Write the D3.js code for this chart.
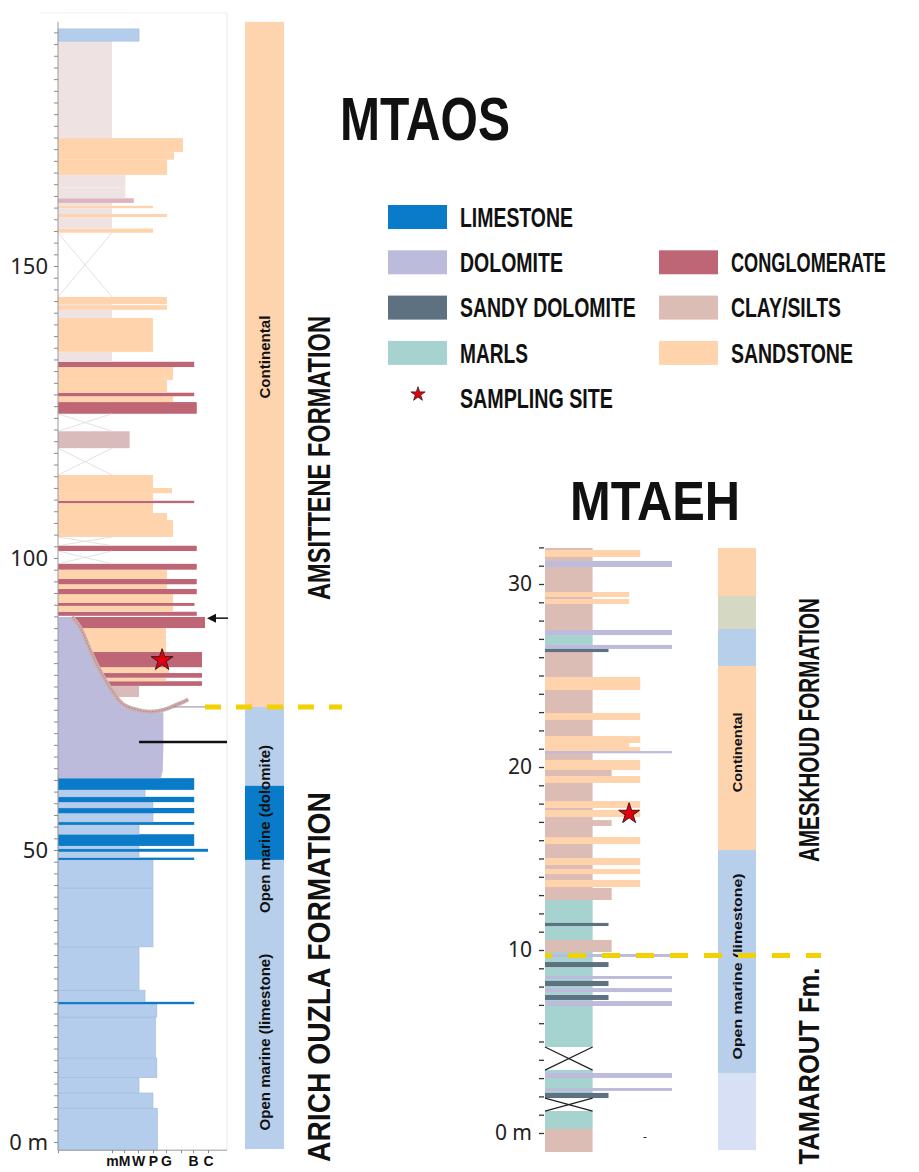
<!DOCTYPE html>
<html>
<head>
<meta charset="utf-8">
<script src="https://cdn.jsdelivr.net/npm/d3@7"></script>
<style>
  body { margin: 0; background: #fff; }
  svg { display: block; }
  .cond { font-family: "Liberation Sans Narrow", "Arial Narrow", "Liberation Sans", sans-serif; font-weight: bold; fill: #111; }
  .num { font-family: "Noto Sans", "Open Sans", sans-serif; fill: #222; }
</style>
</head>
<body>
<svg id="chart" width="919" height="1172"></svg>
<script>
(function () {

  /**
   * Data
   */
  const grainTicks = [0, 1, 2, 3, 4, 5, 6, 7, 8];
  const grainLabels = ["", "m", "M", "W", "P", "G", "", "B", "C"];
  const mtaosLabelTicks = [0, 50, 100, 150];
  const mtaehLabelTicks = [0, 10, 20, 30];

  // [base (m), top (m), lithology, grain-size reach]
  const mtaosBeds = [
    [-1.4, 5.8, "limeL", 4.35], [5.8, 8.4, "limeL", 4.0], [8.4, 11.0, "limeL", 3.07],
    [11.0, 14.4, "limeL", 4.3], [14.4, 21.4, "limeL", 4.2], [21.4, 23.6, "limeL", 4.3],
    [23.6, 24.0, "lime", 7.08], [24.0, 26.0, "limeL", 3.47], [26.0, 33.4, "limeL", 3.07],
    [33.4, 43.5, "limeL", 4.0], [43.5, 48.3, "limeL", 4.0], [48.3, 48.7, "lime", 7.08],
    [48.7, 49.7, "limeL", 3.07], [49.7, 50.2, "lime", 8.0], [50.2, 50.7, "limeL", 3.07],
    [50.7, 52.7, "lime", 7.08], [52.7, 54.3, "limeL", 3.07], [54.3, 54.8, "lime", 7.08],
    [54.8, 56.3, "limeL", 4.0], [56.3, 57.2, "lime", 7.08], [57.2, 58.2, "limeL", 4.0],
    [58.2, 59.1, "lime", 7.08], [59.1, 60.3, "limeL", 3.47], [60.3, 62.3, "lime", 7.08],
    [76.2, 78.1, "clayD", 3.07], [78.1, 78.9, "cgl", 7.6], [78.9, 79.5, "sand", 5.0],
    [79.5, 80.3, "cgl", 7.6], [80.3, 81.3, "sand", 5.2], [81.3, 83.9, "cgl", 7.6],
    [83.9, 88.0, "sand", 5.0], [88.0, 89.9, "cgl", 7.8],
    [90.1, 90.8, "cgl", 7.25], [90.8, 91.8, "sand", 5.47], [91.8, 92.3, "cgl", 7.1],
    [92.3, 93.8, "sand", 5.47], [93.8, 94.7, "cgl", 7.25], [94.7, 95.5, "sand", 5.07],
    [95.5, 96.4, "cgl", 7.25], [96.4, 98.0, "sand", 5.07], [98.0, 99.0, "cgl", 7.25],
    [101.2, 102.1, "cgl", 7.25], [103.6, 106.5, "sand", 5.47], [106.5, 107.7, "sand", 5.07],
    [107.7, 109.4, "sand", 4.0], [109.4, 109.8, "cgl", 7.08], [109.8, 111.1, "sand", 4.0],
    [111.1, 112.0, "sand", 5.4], [112.0, 114.2, "sand", 4.0], [118.8, 121.7, "clayD", 2.4],
    [124.7, 126.7, "cgl", 7.25], [126.7, 127.7, "sand", 5.47], [127.7, 128.3, "cgl", 7.08],
    [128.3, 130.5, "sand", 5.07], [130.5, 132.7, "sand", 5.47], [132.7, 133.6, "cgl", 7.08],
    [133.6, 135.3, "clayF", 1.0], [135.3, 141.1, "sand", 4.0], [141.1, 142.5, "clayF", 1.0],
    [142.5, 143.3, "sand", 5.07], [143.3, 143.5, "clayF", 1.0], [143.5, 144.7, "sand", 5.07],
    [155.7, 156.4, "sand", 4.0], [156.4, 158.4, "clayF", 1.0], [158.4, 158.9, "sand", 5.07],
    [158.9, 159.9, "clayF", 1.0], [159.9, 160.3, "sand", 4.0], [160.3, 160.8, "clayF", 1.0],
    [160.8, 161.6, "cglF", 2.7], [161.6, 163.4, "clayF", 2.1], [163.4, 165.6, "clayF", 2.1],
    [165.6, 168.2, "sand", 5.07], [168.2, 169.5, "sand", 5.53], [169.5, 171.9, "sand", 6.17],
    [171.9, 188.5, "clayF", 1.0], [188.5, 190.6, "limeL", 3.07]
  ];
  const mtaosCovered = [[144.7, 155.7], [121.7, 124.7], [114.2, 118.8], [102.1, 103.6], [99.0, 101.2]];
  // dolomite body below the erosive surface: [depth, grain]
  const mtaosDolomite = [
    [62.3, 0], [89.9, 0], [89.9, 0.26], [88.5, 0.41], [84.2, 0.59], [81.7, 0.72], [79.1, 0.87],
    [76.5, 1.25], [74.8, 1.83], [74.0, 2.86], [73.5, 3.8], [73.6, 4.8], [68.0, 4.8], [63.5, 4.75], [62.3, 4.6]
  ];
  const mtaosSurface = [
    [89.9, 0.26], [88.5, 0.41], [84.2, 0.59], [81.7, 0.72], [79.1, 0.87], [76.5, 1.25],
    [74.8, 1.83], [74.0, 2.86], [73.5, 3.8], [74.0, 4.93], [74.8, 5.6], [75.2, 6.07], [75.8, 6.6]
  ];
  const mtaosSamples = [[82.5, 4.7]];
  const mtaosEnv = [[74.5, 191.8, "cont"], [61.0, 74.5, "marineL"], [48.3, 61.0, "marineD"], [-1.2, 48.3, "marineL"]];
  const mtaosEnvLabels = [["Continental", 134.4, 83], ["Open marine (dolomite)", 53.6, 168], ["Open marine (limestone)", 17.1, 177]];
  const mtaosBoundary = 74.5;
  const mtaosMarker = 68.5;
  const mtaosArrow = 89.7;

  const mtaehBase = [
    [-1.04, 0.22, "clay", 3], [0.22, 1.20, "marl", 3], [1.91, 3.44, "marl", 3],
    [4.70, 12.73, "marl", 3], [12.73, 26.67, "clay", 3], [26.67, 27.21, "marl", 3], [27.21, 31.97, "clay", 3]
  ];
  const mtaehBeds = [
    [31.48, 31.86, "sand", 6], [30.93, 31.26, "dol", 8], [29.29, 29.56, "sand", 5.3],
    [28.91, 29.18, "sand", 5.3], [27.21, 27.49, "dol", 8], [26.45, 26.67, "dol", 8],
    [26.28, 26.45, "sdol", 4], [24.21, 24.92, "sand", 6], [22.57, 22.95, "sand", 6],
    [21.31, 21.69, "sand", 6], [21.09, 21.31, "sand", 5.3], [20.87, 21.09, "sand", 6],
    [20.75, 20.87, "dol", 8], [19.84, 20.38, "sand", 6], [19.51, 19.84, "clay", 4.2],
    [19.13, 19.51, "sand", 6], [17.76, 18.14, "sand", 6], [17.27, 17.65, "sand", 6],
    [16.78, 17.10, "clay", 4.2], [15.79, 16.17, "sand", 6], [14.64, 15.03, "sand", 6],
    [14.15, 14.43, "sand", 6], [13.44, 13.83, "sand", 6], [12.73, 13.39, "clay", 4.2],
    [11.31, 11.48, "sdol", 4], [9.89, 10.55, "clay", 4.2], [9.62, 9.78, "dol", 8],
    [9.07, 9.34, "sdol", 4], [8.42, 8.58, "dol", 8], [8.03, 8.31, "sdol", 4],
    [7.70, 7.92, "dol", 8], [7.27, 7.54, "sdol", 4], [6.94, 7.21, "dol", 8],
    [3.01, 3.28, "dol", 8], [2.30, 2.46, "dol", 8], [1.91, 2.19, "sdol", 4]
  ];
  const mtaehCovered = [[3.44, 4.70], [1.20, 1.91]];
  const mtaehSamples = [[17.45, 5.3]];
  const mtaehEnv = [[29.34, 31.97, "cont"], [27.54, 29.34, "mixed"], [25.52, 27.54, "marineL"],
    [15.46, 25.52, "cont"], [3.28, 15.46, "marineL"], [-0.93, 3.28, "marineP"]];
  const mtaehEnvLabels = [["Continental", 20.8, 80], ["Open marine (limestone)", 9.1, 186]];
  const mtaehBoundary = 9.7;

  const legendLeft = [["LIMESTONE", "lime"], ["DOLOMITE", "dol"], ["SANDY DOLOMITE", "sdol"], ["MARLS", "marl"]];
  const legendRight = [["CONGLOMERATE", "cgl"], ["CLAY/SILTS", "clay"], ["SANDSTONE", "sand"]];
  const legendStar = "SAMPLING SITE";

  /**
   * Styles
   */
  const lith = {
    lime: "#0a7bc8", limeL: "#b5cdec", dol: "#bdbbdb", sdol: "#5e7181", marl: "#a6d2d0",
    cgl: "#bf6676", cglF: "#dcb3bf", clay: "#dcbdb6", clayD: "#d9bbbb", clayF: "#eee3e2", sand: "#ffd3ac"
  };
  const env = { cont: "#fed4ae", marineL: "#b7cfeb", marineD: "#0a7bc8", mixed: "#d5d8c2", marineP: "#d7e0f4" };
  const labelWidths = {
    LIMESTONE: 113, DOLOMITE: 103, "SANDY DOLOMITE": 176, MARLS: 68, "SAMPLING SITE": 153,
    CONGLOMERATE: 155, "CLAY/SILTS": 110, SANDSTONE: 122
  };

  const svg = d3.select("#chart");
  const star = r => d3.symbol(d3.symbolStar, r * r / 0.8908130915292852)();

  // squeeze a condensed label horizontally to the width it has in the figure
  function fitText(g, txt, x, y, size, len, rot, anchor) {
    const t = g.append("text")
      .attr("class", "cond")
      .attr("text-anchor", anchor || "middle")
      .attr("dy", "0.36em")
      .attr("font-size", size)
      .text(txt);
    const sx = len / t.node().getComputedTextLength();
    t.attr("transform", "translate(" + x + "," + y + ")" + (rot ? " rotate(-90)" : "") + " scale(" + sx + ",1)");
    return t;
  }

  function drawBeds(g, beds, x, y) {
    g.selectAll(null)
      .data(beds)
      .enter().append("rect")
      .attr("x", x(0))
      .attr("y", d => y(d[1]))
      .attr("width", d => x(d[3]) - x(0))
      .attr("height", d => y(d[0]) - y(d[1]))
      .attr("fill", d => lith[d[2]])
      .attr("stroke", d => d[2] === "limeL" ? "#9fb6d6" : "none")
      .attr("stroke-width", 0.5);
  }

  function drawCovered(g, spans, x, y, w, color, sw) {
    spans.forEach(s => {
      g.append("path")
        .attr("d", "M" + x(0) + "," + y(s[0]) + "L" + x(w) + "," + y(s[1]) +
          "M" + x(0) + "," + y(s[1]) + "L" + x(w) + "," + y(s[0]))
        .attr("stroke", color)
        .attr("stroke-width", sw)
        .attr("fill", "none");
    });
  }

  function drawEnv(g, bands, y, x0, x1) {
    g.selectAll(null)
      .data(bands)
      .enter().append("rect")
      .attr("x", x0)
      .attr("width", x1 - x0)
      .attr("y", d => y(d[1]))
      .attr("height", d => y(d[0]) - y(d[1]))
      .attr("fill", d => env[d[2]]);
  }

  /**
   * MTAOS section
   */
  const yOS = d3.scaleLinear().domain([0, 150]).range([1142, 266]);
  const xOS = d3.scaleLinear().domain(grainTicks).range([58, 112, 124, 138, 153, 166, 181, 193, 208]);
  const os = svg.append("g");

  // frame
  os.append("line").attr("x1", 227).attr("x2", 227).attr("y1", 13).attr("y2", yOS(-1.4))
    .attr("stroke", "#e8e8e8");
  os.append("line").attr("x1", 40).attr("x2", 227).attr("y1", 13).attr("y2", 13)
    .attr("stroke", "#f0f0f0");

  drawBeds(os, mtaosBeds, xOS, yOS);
  drawCovered(os, mtaosCovered, xOS, yOS, 1, "#d9d9d9", 0.8);

  os.append("path")
    .attr("d", d3.line().x(d => xOS(d[1])).y(d => yOS(d[0]))(mtaosDolomite))
    .attr("fill", lith.dol);
  const surf = d3.line().x(d => xOS(d[1])).y(d => yOS(d[0])).curve(d3.curveBasis)(mtaosSurface);
  os.append("path").attr("d", surf).attr("fill", "none").attr("stroke", "#cfadad").attr("stroke-width", 4);
  os.append("path").attr("d", surf).attr("fill", "none").attr("stroke", "#a08383")
    .attr("stroke-width", 0.9).attr("stroke-dasharray", "1.5,1.5");

  // depth axis
  os.append("line").attr("x1", xOS(0)).attr("x2", xOS(0)).attr("y1", yOS(191.8)).attr("y2", yOS(-1.4))
    .attr("stroke", "#9a9a9a");
  const osAxis = os.append("g")
    .attr("transform", "translate(" + xOS(0) + ",0)")
    .call(d3.axisLeft(yOS).tickValues(d3.range(0, 192, 2)).tickSize(4).tickPadding(6)
      .tickFormat(d => mtaosLabelTicks.includes(d) ? (d === 0 ? "0 m" : d) : ""));
  osAxis.select(".domain").remove();
  osAxis.selectAll("line").attr("stroke", "#8a8a8a");
  osAxis.selectAll("text").attr("class", "num").attr("font-size", 22);

  // grain-size axis
  os.append("line").attr("x1", xOS(0)).attr("x2", 227).attr("y1", yOS(-1.4)).attr("y2", yOS(-1.4))
    .attr("stroke", "#9a9a9a");
  const gAxis = os.append("g")
    .attr("transform", "translate(0," + yOS(-1.4) + ")")
    .call(d3.axisBottom(xOS).tickValues(grainTicks).tickSize(3).tickPadding(3)
      .tickFormat((d, i) => grainLabels[i]));
  gAxis.select(".domain").remove();
  gAxis.selectAll("line").attr("stroke", "#8a8a8a");
  gAxis.selectAll("text").attr("class", "cond").attr("font-size", 14).attr("fill", "#222");

  // markers
  os.append("line").attr("x1", xOS(5.5)).attr("x2", xOS(7.8))
    .attr("y1", yOS(mtaosBoundary)).attr("y2", yOS(mtaosBoundary)).attr("stroke", "#8c8c8c");
  os.append("line").attr("x1", xOS(3.07)).attr("x2", 227)
    .attr("y1", yOS(mtaosMarker)).attr("y2", yOS(mtaosMarker))
    .attr("stroke", "#111").attr("stroke-width", 2.5);
  os.append("line").attr("x1", 214).attr("x2", 228)
    .attr("y1", yOS(mtaosArrow)).attr("y2", yOS(mtaosArrow)).attr("stroke", "#111").attr("stroke-width", 1.5);
  os.append("path")
    .attr("d", "M207," + yOS(mtaosArrow) + "l9,-4.5v9z").attr("fill", "#111");

  os.selectAll(null).data(mtaosSamples).enter().append("path")
    .attr("d", star(11.5))
    .attr("transform", d => "translate(" + xOS(d[1]) + "," + yOS(d[0]) + ")")
    .attr("fill", "#e2000f").attr("stroke", "#3a1a1a").attr("stroke-width", 1);

  // environment column
  drawEnv(os, mtaosEnv, yOS, 245, 284);
  mtaosEnvLabels.forEach(l => fitText(os, l[0], 265, yOS(l[1]), 15, l[2], true));

  os.append("line").attr("x1", xOS(7.8)).attr("x2", 342)
    .attr("y1", yOS(mtaosBoundary)).attr("y2", yOS(mtaosBoundary))
    .attr("stroke", "#f3d000").attr("stroke-width", 5).attr("stroke-dasharray", "16,15");

  fitText(os, "AMSITTENE  FORMATION", 318, 458, 32, 284, true);
  fitText(os, "ARICH OUZLA FORMATION", 318, 977, 32, 370, true);

  fitText(os, "MTAOS", 340, 118, 62, 170, false, "start");

  /**
   * MTAEH section
   */
  const yEH = d3.scaleLinear().domain([0, 30]).range([1133, 584]);
  const xEH = d3.scaleLinear().domain([0, 8]).range([545, 672]);
  const eh = svg.append("g");

  drawBeds(eh, mtaehBase, xEH, yEH);
  drawBeds(eh, mtaehBeds, xEH, yEH);
  drawCovered(eh, mtaehCovered, xEH, yEH, 3, "#222", 1.3);

  const ehAxis = eh.append("g")
    .attr("transform", "translate(" + (xEH(0) - 1) + ",0)")
    .call(d3.axisLeft(yEH).tickValues(d3.range(0, 33, 1)).tickSize(5).tickPadding(7)
      .tickFormat(d => mtaehLabelTicks.includes(d) ? (d === 0 ? "0 m" : d) : ""));
  ehAxis.select(".domain").remove();
  ehAxis.selectAll("line").attr("stroke", "#333").attr("stroke-width", 1.3);
  ehAxis.selectAll("text").attr("class", "num").attr("font-size", 21);

  eh.append("text").attr("class", "num").attr("x", xEH(6.3)).attr("y", yEH(-0.45))
    .attr("font-size", 12).attr("text-anchor", "middle").text("-");

  eh.selectAll(null).data(mtaehSamples).enter().append("path")
    .attr("d", star(11))
    .attr("transform", d => "translate(" + xEH(d[1]) + "," + yEH(d[0]) + ")")
    .attr("fill", "#e2000f").attr("stroke", "#3a1a1a").attr("stroke-width", 1);

  drawEnv(eh, mtaehEnv, yEH, 718, 756);
  mtaehEnvLabels.forEach(l => fitText(eh, l[0], 737, yEH(l[1]), 13, l[2], true));

  eh.append("line").attr("x1", xEH(0)).attr("x2", 821)
    .attr("y1", yEH(mtaehBoundary)).attr("y2", yEH(mtaehBoundary))
    .attr("stroke", "#f3d000").attr("stroke-width", 5)
    .attr("stroke-dasharray", "18,16").attr("stroke-dashoffset", 11);

  fitText(eh, "AMESKHOUD  FORMATION", 808, 730, 30, 264, true);
  fitText(eh, "TAMAROUT  Fm.", 808, 1066, 30, 197, true);

  fitText(eh, "MTAEH", 570, 500, 56, 170, false, "start");

  /**
   * Legend
   */
  const legend = svg.append("g");
  const rowH = 45.3;

  function legendItem(item, i, x) {
    const y = 205 + i * rowH;
    legend.append("rect").attr("x", x).attr("y", y).attr("width", 59).attr("height", 24)
      .attr("fill", lith[item[1]]);
    fitText(legend, item[0], x + 72, y + 12, 27, labelWidths[item[0]], false, "start");
  }
  legendLeft.forEach((d, i) => legendItem(d, i, 388));
  legendRight.forEach((d, i) => legendItem(d, i + 1, 659));

  legend.append("path").attr("d", star(7.5))
    .attr("transform", "translate(418," + (205 + 4 * rowH + 8) + ")")
    .attr("fill", "#e2000f").attr("stroke", "#3a1a1a").attr("stroke-width", 0.8);
  fitText(legend, legendStar, 460, 205 + 4 * rowH + 12, 27, labelWidths[legendStar], false, "start");

})();
</script>
</body>
</html>
